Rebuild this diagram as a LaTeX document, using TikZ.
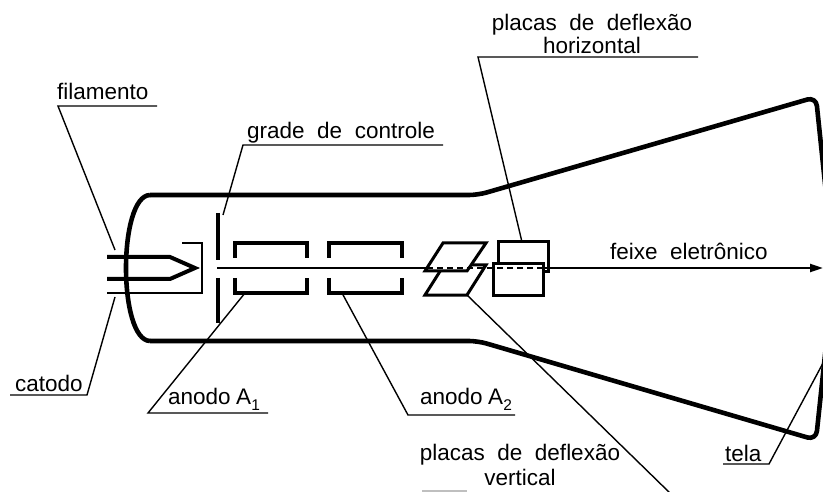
\documentclass[tikz,border=0pt]{standalone}
\usepackage{fontspec}
\setmainfont{Liberation Sans}
\newfontfamily\lblfont{Liberation Sans}[WordSpace=2]
\usetikzlibrary{arrows.meta}

\begin{document}
\begin{tikzpicture}[x=1pt,y=-1pt,
  tube/.style={line width=4.6pt, line join=round},
  electrode/.style={line width=4pt},
  shield/.style={line width=2.8pt},
  plate/.style={line width=3pt, line join=miter, fill=white},
  leader/.style={line width=1.4pt},
  beam/.style={line width=2.2pt},
  hidden/.style={line width=1.6pt, dash pattern=on 6pt off 4pt},
  lbl/.style={font=\lblfont\fontsize{22.5}{26}\selectfont, inner sep=0pt, anchor=base west},
  clbl/.style={lbl, anchor=base},
]
\newcommand{\subidx}[1]{\raisebox{-6pt}{\fontsize{15.5}{16}\selectfont #1}}
\useasboundingbox (0,0) rectangle (823,492);
\clip (0,0) rectangle (823,492);

% glass envelope of the tube
\draw[tube, rounded corners=9pt] (150,195) -- (478,195) -- (816,97) -- (834,270)
  -- (816,440) -- (478,341) -- (150,341);
\draw[tube] (150,195) .. controls (118,196) and (118,340) .. (150,341);

% cathode with filament and its shield
\draw[electrode] (107,257) -- (170,257) -- (195,268) -- (170,279) -- (107,279);
\draw[shield] (107,293) -- (202,293) -- (202,243) -- (182,243);

% control grid
\draw[electrode] (218,213) -- (218,260);
\draw[electrode] (218,278) -- (218,323);

% anodes A1 and A2
\draw[electrode] (235,258) -- (235,243) -- (307,243) -- (307,258);
\draw[electrode] (235,278) -- (235,293) -- (307,293) -- (307,278);
\draw[electrode] (329,258) -- (329,243) -- (402,243) -- (402,258);
\draw[electrode] (329,278) -- (329,293) -- (402,293) -- (402,278);

% electron beam up to the deflection plates
\coordinate (beamA) at (217,268);
\coordinate (beamB) at (427,268);
\coordinate (beamC) at (545,268);
\coordinate (beamD) at (823,268);
\draw[beam] (beamA) -- (beamB);

% vertical deflection plates
\draw[plate] (425,295) -- (467,295) -- (486,265) -- (444,265) -- cycle;
\draw[plate] (443,243) -- (486,243) -- (467,271) -- (425,271) -- cycle;

% horizontal deflection plates
\draw[plate] (498,242) rectangle (548,272);
\draw[plate] (493,264) rectangle (543,295);

% beam behind the plates and beyond them
\draw[hidden] (beamB) -- (beamC);
\draw[beam, -{Triangle[length=13pt,width=8pt]}] (beamC) -- (beamD);

% labels
\node[lbl] (filamento) at (57,100) {filamento};
\node[lbl] (catodo) at (15,391) {catodo};
\node[lbl] (grade) at (247,139) {grade de controle};
\node[lbl] (anodoA) at (168,404) {anodo\hspace{5.5pt}A\subidx{1}};
\node[lbl] (anodoB) at (420,404) {anodo\hspace{5.5pt}A\subidx{2}};
\node[clbl] (placasH) at (592,31) {placas de deflexão};
\node[clbl] (horiz) at (592,54) {horizontal};
\node[clbl] (placasV) at (520,460) {placas de deflexão};
\node[clbl] (vert) at (520,485) {vertical};
\node[lbl] (feixe) at (610,259) {feixe eletrônico};
\node[lbl] (tela) at (725,461) {tela};

% leader lines
\coordinate (fil0) at (115,250); \coordinate (fil1) at (58,106); \coordinate (fil2) at (157,106);
\coordinate (cat0) at (115,297); \coordinate (cat1) at (87,395); \coordinate (cat2) at (10,395);
\coordinate (gr0) at (223,215); \coordinate (gr1) at (243,145); \coordinate (gr2) at (443,145);
\coordinate (a10) at (245,293); \coordinate (a11) at (148,413); \coordinate (a12) at (268,413);
\coordinate (a20) at (342,293); \coordinate (a21) at (408,415); \coordinate (a22) at (515,415);
\coordinate (ph0) at (522,242); \coordinate (ph1) at (478,57); \coordinate (ph2) at (698,57);
\coordinate (pv0) at (467,295); \coordinate (pv1) at (672,495);
\coordinate (te0) at (723,464); \coordinate (te1) at (769,464); \coordinate (te2) at (830,350);
\draw[leader] (fil0) -- (fil1) -- (fil2);
\draw[leader] (cat0) -- (cat1) -- (cat2);
\draw[leader] (gr0) -- (gr1) -- (gr2);
\draw[leader] (a10) -- (a11) -- (a12);
\draw[leader] (a20) -- (a21) -- (a22);
\draw[leader] (ph0) -- (ph1) -- (ph2);
\draw[leader] (pv0) -- (pv1);
\draw[leader] (te0) -- (te1) -- (te2);
\draw[line width=2pt, black!25] (422,491) -- (467,491);
\end{tikzpicture}
\end{document}
